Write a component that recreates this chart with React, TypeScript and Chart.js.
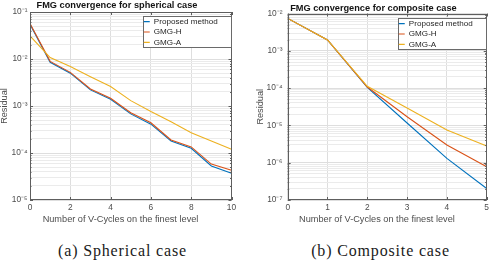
import React, { useEffect, useRef } from 'react';
import { Chart, registerables } from 'chart.js';

Chart.register(...registerables);

// ---------- data ----------
const seriesNames = ['Proposed method', 'GMG-H', 'GMG-A'];
const seriesColors = ['#0072BD', '#D95319', '#EDB120'];

const sphTitle = 'FMG convergence for spherical case';
const sphCycles = [0, 1, 2, 3, 4, 5, 6, 7, 8, 9, 10];
const sphProposed = [0.055, 0.0085, 0.005, 0.0022, 0.00139, 0.00068, 0.00041, 0.00018, 0.000126, 0.000053, 0.000037];
const sphGmgH = [0.057, 0.0089, 0.0052, 0.0023, 0.00146, 0.00072, 0.00044, 0.00019, 0.000135, 0.000058, 0.000043];
const sphGmgA = [0.031, 0.0107, 0.0069, 0.0042, 0.0026, 0.0013, 0.00076, 0.00046, 0.00027, 0.00018, 0.00012];
const sphXRange = [0, 10];
const sphXStep = 2;
const sphYRange = [1e-5, 1e-1];

const compTitle = 'FMG convergence for composite case';
const compCycles = [0, 1, 2, 3, 4, 5];
const compProposed = [0.0074, 0.00195, 0.000105, 0.0000116, 0.00000131, 0.000000204];
const compGmgH = [0.0074, 0.00195, 0.000107, 0.0000171, 0.00000298, 0.00000078];
const compGmgA = [0.0074, 0.00195, 0.000112, 0.0000293, 0.0000075, 0.0000028];
const compXRange = [0, 5];
const compXStep = 1;
const compYRange = [1e-7, 1e-2];

const xAxisTitle = 'Number of V-Cycles on the finest level';
const yAxisTitle = 'Residual';
const captionA = '(a) Spherical case';
const captionB = '(b) Composite case';

// ---------- style ----------
const SANS = "'Liberation Sans', Arial, Helvetica, sans-serif";
const SERIF = "'Liberation Serif', 'Times New Roman', serif";
const TEXT_GRAY = '#4d4d4d';
const FRAME = '#5e5e5e';
const GRID_MAJOR = '#dedede';
const GRID_MINOR = '#ebebeb';
const LEGEND_W = 89;
const LEGEND_H = 31;
const CAPTION_SIZE = 16;

function measure(text: string, size: number, family: string, weight = 'normal') {
  const c = document.createElement('canvas').getContext('2d');
  if (!c) return size * text.length * 0.5;
  c.font = `${weight} ${size}px ${family}`;
  return c.measureText(text).width;
}
function fitSize(text: string, target: number, family: string, weight = 'normal') {
  const w = measure(text, 20, family, weight);
  return w > 0 ? (20 * target) / w : 10;
}

let sizesCache: any = null;
function getSizes() {
  if (sizesCache) return sizesCache;
  const label = fitSize(xAxisTitle, 156, SANS);
  const title = fitSize(sphTitle, 161, SANS, 'bold');
  const legend = fitSize('Proposed method', 64, SANS);
  const capW = measure(captionA, CAPTION_SIZE, SERIF);
  const capSpacing = Math.max(0, (128 - capW) / (captionA.length - 1));
  sizesCache = { label, title, tick: label / 1.1, legend, capSpacing };
  return sizesCache;
}

const SUP: Record<string, string> = {
  '-': '\u207B', '0': '\u2070', '1': '\u00B9', '2': '\u00B2', '3': '\u00B3',
  '4': '\u2074', '5': '\u2075', '6': '\u2076', '7': '\u2077', '8': '\u2078', '9': '\u2079',
};
const toSup = (s: string) => s.split('').map((c) => SUP[c] ?? c).join('');
const isPow10 = (v: number) => {
  const l = Math.log10(v);
  return Math.abs(l - Math.round(l)) < 1e-9;
};

function logTicks(min: number, max: number) {
  const out: { value: number }[] = [];
  const e0 = Math.round(Math.log10(min));
  const e1 = Math.round(Math.log10(max));
  for (let e = e0; e < e1; e++) {
    for (let m = 1; m < 10; m++) out.push({ value: m * Math.pow(10, e) });
  }
  out.push({ value: Math.pow(10, e1) });
  return out;
}

function makeFramePlugin(legendSize: number, legendPad: number) {
  return {
    id: 'matlabFrame',
    afterLayout(chart: any) {
      const ca = chart.chartArea;
      const lg = chart.legend;
      if (lg) {
        const bx = Math.round(ca.right - LEGEND_W);
        const by = Math.round(ca.top + 4);
        lg.left = bx + 10.8 - legendPad - 6 - legendSize / 2;
        lg.top = by + 5.6 - legendPad - legendSize / 2;
        lg.width = LEGEND_W + 10;
        lg.height = LEGEND_H + 16;
        lg.right = lg.left + lg.width;
        lg.bottom = lg.top + lg.height;
      }
      const t = chart.titleBlock;
      if (t) {
        t.left = ca.left - 27.5;
        t.right = ca.right;
        t.width = t.right - t.left;
      }
      const xs = chart.scales.x;
      if (xs && !xs.__shifted) {
        xs.__shifted = true;
        const orig = xs.drawTitle;
        xs.drawTitle = function () {
          const l = this.left;
          this.left = l - 20.5;
          orig.call(this);
          this.left = l;
        };
      }
    },
    afterDraw(chart: any) {
      const ctx = chart.ctx as CanvasRenderingContext2D;
      const ca = chart.chartArea;
      const xs = chart.scales.x;
      const ys = chart.scales.y;
      ctx.save();
      ctx.strokeStyle = FRAME;
      ctx.lineWidth = 1;
      ctx.beginPath();
      ys.ticks.forEach((t: any) => {
        const py = Math.round(ys.getPixelForValue(t.value)) + 0.5;
        const len = isPow10(t.value) ? 3 : 1.5;
        ctx.moveTo(ca.left, py);
        ctx.lineTo(ca.left + len, py);
        ctx.moveTo(ca.right, py);
        ctx.lineTo(ca.right - len, py);
      });
      xs.ticks.forEach((t: any) => {
        const px = Math.round(xs.getPixelForValue(t.value)) + 0.5;
        ctx.moveTo(px, ca.bottom);
        ctx.lineTo(px, ca.bottom - 3);
        ctx.moveTo(px, ca.top);
        ctx.lineTo(px, ca.top + 3);
      });
      ctx.stroke();
      const l = Math.round(ca.left) + 0.5;
      const tp = Math.round(ca.top) + 0.5;
      const r = Math.round(ca.right) - 0.5;
      const b = Math.round(ca.bottom) - 0.5;
      ctx.strokeRect(l, tp, r - l, b - tp);
      const lg = chart.legend;
      if (lg) {
        const bx = Math.round(ca.right - LEGEND_W) + 0.5;
        const by = Math.round(ca.top + 4) + 0.5;
        ctx.fillStyle = '#ffffff';
        ctx.fillRect(bx, by, LEGEND_W - 1, LEGEND_H);
        ctx.strokeStyle = '#6a6a6a';
        ctx.strokeRect(bx, by, LEGEND_W - 1, LEGEND_H);
        ctx.restore();
        lg.draw();
        return;
      }
      ctx.restore();
    },
  };
}

type PanelProps = {
  title: string;
  cycles: number[];
  series: number[][];
  xRange: number[];
  xStep: number;
  yRange: number[];
  width: number;
  height: number;
  padLeft: number;
  padRight: number;
  yWidth: number;
  yTickPad: number;
  yTitleCenter: number;
  titleCenter: number;
  areaTop: number;
};

function LogPanel(p: PanelProps) {
  const ref = useRef<HTMLCanvasElement | null>(null);
  useEffect(() => {
    if (!ref.current) return;
    const S = getSizes();
    const legendPad = Math.max(0.5, 10.4 - S.legend);
    const titleTop = Math.max(0, p.titleCenter - S.title / 2);
    const titleBottom = Math.max(0, p.areaTop - S.title - titleTop);
    const yTitleLH = 0.9;
    const yTitlePad = Math.max(0, p.yTitleCenter - p.padLeft - (S.label * yTitleLH) / 2);
    const xTitleLH = 1.2;
    const xTitlePadB = Math.max(0, 226 - 219.3 - (S.label * xTitleLH) / 2);
    const xTickPad = Math.max(0, 208 - 200 - (S.tick * 1.2) / 2);
    const chart = new Chart(ref.current, {
      type: 'line',
      data: {
        datasets: p.series.map((vals, i) => ({
          label: seriesNames[i],
          data: p.cycles.map((c, j) => ({ x: c, y: vals[j] })),
          borderColor: seriesColors[i],
          backgroundColor: seriesColors[i],
          borderWidth: 1.1,
          pointRadius: 0,
          tension: 0,
          fill: false,
          order: 2 - i,
        })),
      },
      options: {
        animation: false,
        responsive: false,
        events: [],
        layout: { padding: { left: p.padLeft, right: p.padRight, top: 0, bottom: 0 } },
        plugins: {
          title: {
            display: true,
            text: p.title,
            color: '#141414',
            font: { family: SANS, size: S.title, weight: 'bold', lineHeight: 1 },
            padding: { top: titleTop, bottom: titleBottom },
          },
          legend: {
            position: 'chartArea',
            align: 'start',
            labels: {
              font: { family: SANS, size: S.legend },
              color: '#262626',
              usePointStyle: true,
              pointStyle: 'line',
              pointStyleWidth: 6,
              boxHeight: S.legend,
              padding: legendPad,
              sort: (a: any, b: any) => a.datasetIndex - b.datasetIndex,
            },
          },
          tooltip: { enabled: false },
        },
        scales: {
          x: {
            type: 'linear',
            min: p.xRange[0],
            max: p.xRange[1],
            ticks: {
              stepSize: p.xStep,
              color: TEXT_GRAY,
              font: { family: SANS, size: S.tick, lineHeight: 1.2 },
              padding: xTickPad,
            },
            grid: { color: GRID_MAJOR, drawTicks: false },
            border: { display: false },
            title: {
              display: true,
              text: xAxisTitle,
              color: TEXT_GRAY,
              font: { family: SANS, size: S.label, lineHeight: xTitleLH },
              padding: { top: 0, bottom: xTitlePadB },
            },
            afterFit: (s: any) => {
              s.height = 26;
            },
          },
          y: {
            type: 'logarithmic',
            min: p.yRange[0],
            max: p.yRange[1],
            afterBuildTicks: (s: any) => {
              s.ticks = logTicks(p.yRange[0], p.yRange[1]);
            },
            ticks: {
              autoSkip: false,
              color: TEXT_GRAY,
              font: { family: SANS, size: S.tick },
              padding: p.yTickPad,
              callback: (v: any) => {
                const n = Number(v);
                if (!isPow10(n)) return '';
                return '10' + toSup(String(Math.round(Math.log10(n))));
              },
            },
            grid: {
              drawTicks: false,
              color: (c: any) => (c.tick && isPow10(c.tick.value) ? GRID_MAJOR : GRID_MINOR),
            },
            border: { display: false },
            title: {
              display: true,
              text: yAxisTitle,
              color: TEXT_GRAY,
              font: { family: SANS, size: S.label, lineHeight: yTitleLH },
              padding: { top: yTitlePad, bottom: 0 },
            },
            afterFit: (s: any) => {
              s.width = p.yWidth;
            },
          },
        },
      } as any,
      plugins: [makeFramePlugin(S.legend, legendPad)],
    } as any);
    return () => chart.destroy();
  }, []);
  return (
    <canvas
      ref={ref}
      width={p.width}
      height={p.height}
      style={{ width: p.width, height: p.height, display: 'block' }}
    />
  );
}

export default function App() {
  const S = getSizes();
  const captionStyle: React.CSSProperties = {
    position: 'absolute',
    top: 241,
    fontFamily: SERIF,
    fontSize: CAPTION_SIZE,
    letterSpacing: S.capSpacing,
    lineHeight: '20px',
    color: '#1a1a1a',
    whiteSpace: 'nowrap',
    transform: 'translateX(-50%)',
  };
  return (
    <div style={{ position: 'absolute', left: 0, top: 0, width: 492, height: 260, background: '#ffffff', overflow: 'hidden' }}>
      <div style={{ position: 'absolute', left: 0, top: 0 }}>
        <LogPanel
          title={sphTitle}
          cycles={sphCycles}
          series={[sphProposed, sphGmgH, sphGmgA]}
          xRange={sphXRange}
          xStep={sphXStep}
          yRange={sphYRange}
          width={245}
          height={226}
          padLeft={0}
          padRight={13.5}
          yWidth={30}
          yTickPad={2.5}
          yTitleCenter={4.2}
          titleCenter={5}
          areaTop={12}
        />
      </div>
      <div style={{ position: 'absolute', left: 245, top: 0 }}>
        <LogPanel
          title={compTitle}
          cycles={compCycles}
          series={[compProposed, compGmgH, compGmgA]}
          xRange={compXRange}
          xStep={compXStep}
          yRange={compYRange}
          width={247}
          height={226}
          padLeft={10}
          padRight={4}
          yWidth={32.7}
          yTickPad={5.2}
          yTitleCenter={15}
          titleCenter={8.3}
          areaTop={13.5}
        />
      </div>
      <div style={{ ...captionStyle, left: 122.5 }}>{captionA}</div>
      <div style={{ ...captionStyle, left: 380.5 }}>{captionB}</div>
    </div>
  );
}
